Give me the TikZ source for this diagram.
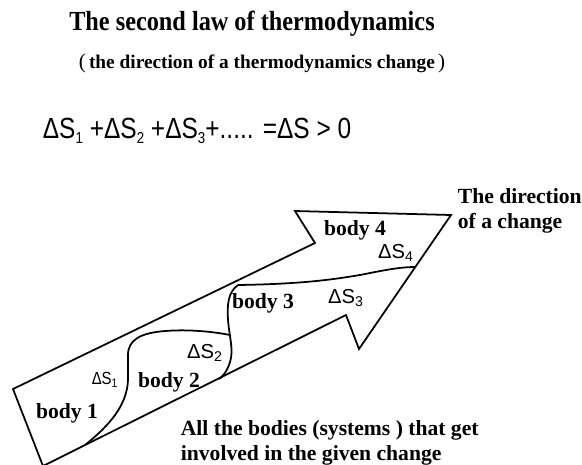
\documentclass[tikz,border=0pt]{standalone}
\usepackage{fontspec}
\setmainfont{Liberation Serif}
\newfontfamily\eqfont{Liberation Sans}
\usetikzlibrary{positioning}
\newcommand{\lowsub}[1]{\raisebox{-0.3ex}{\fontsize{9}{9}\selectfont #1}}

\begin{document}
\begin{tikzpicture}[
  x=0.02cm, y=-0.02cm, line width=1pt, line join=miter,
  heading/.style={font=\fontsize{15.7}{18}\selectfont\bfseries, inner sep=0pt},
  bodylabel/.style={font=\fontsize{12.3}{14}\selectfont\bfseries, inner sep=0pt},
  dslabel/.style={font=\eqfont\fontsize{11.5}{13}\selectfont, inner sep=0pt},
  note/.style={font=\fontsize{12.3}{14.5}\selectfont\bfseries, align=left, anchor=west, inner sep=0pt}
]
\useasboundingbox (0,0) rectangle (582,464);

% -- Heading and the entropy sum
\node[heading] (title) at (252,24) {\scalebox{0.88}[1]{The second law of thermodynamics}};
\node[heading, font=\fontsize{11}{13}\selectfont\bfseries] (subtitle) at (262,63)
  {{\mdseries\large (}\,the direction of a thermodynamics change\,{\mdseries\large )}};
\node[font=\eqfont\fontsize{16.6}{18}\selectfont, anchor=west, inner sep=0pt] (sum) at (42,131)
  {\scalebox{0.84}[1]{ΔS\lowsub{1} +ΔS\lowsub{2} +ΔS\lowsub{3}+..... =ΔS > 0}};

% -- Outline of the big arrow
\coordinate (tailtop) at (13,389);
\coordinate (notchup) at (315,243);
\coordinate (barbup) at (295,211);
\coordinate (tip) at (451,215);
\coordinate (barblow) at (359,349);
\coordinate (notchlow) at (346,315);
\coordinate (tailbot) at (43,466);
\draw (tailtop) -- (notchup) -- (barbup) -- (tip) -- (barblow) -- (notchlow) -- (tailbot) -- cycle;

% -- Borders between the bodies
\coordinate (b1low) at (85,445);
\coordinate (b2top) at (230,335);
\coordinate (b3top) at (238,285);
\coordinate (b2low) at (219,379);
\coordinate (b4end) at (415,267);
\draw (b1low) .. controls (110,425) and (127,405) .. (128,380) -- (128,355)
  .. controls (128,340) and (140,333) .. (165,331)
  .. controls (190,329) and (215,332) .. (b2top);
\draw (b3top) .. controls (228,292) and (227,305) .. (228,320)
  .. controls (229,335) and (234,350) .. (230,362)
  .. controls (227,372) and (222,377) .. (b2low);
\draw (b3top) .. controls (300,284) and (330,280) .. (360,275)
  .. controls (385,270) and (400,267) .. (b4end);

% -- Bodies and their entropy changes
\node[bodylabel] (body1) at (67,413) {body 1};
\node[bodylabel] (body2) at (169,382) {body 2};
\node[bodylabel] (body3) at (263,303) {body 3};
\node[bodylabel] (body4) at (355,230) {body 4};
\node[dslabel, font=\eqfont\fontsize{10}{11}\selectfont] (ds1) at (105,380) {\scalebox{0.85}[1]{ΔS\textsubscript{1}}};
\node[dslabel] (ds2) at (205,353) {ΔS\textsubscript{2}};
\node[dslabel] (ds3) at (346,298) {ΔS\textsubscript{3}};
\node[dslabel] (ds4) at (396,253) {ΔS\textsubscript{4}};

% -- Side notes
\node[note] (direction) at (457,211) {The direction\\of a change};
\node[note] (allbodies) at (180,443) {All the bodies (systems ) that get\\involved in the given change};
\end{tikzpicture}
\end{document}
